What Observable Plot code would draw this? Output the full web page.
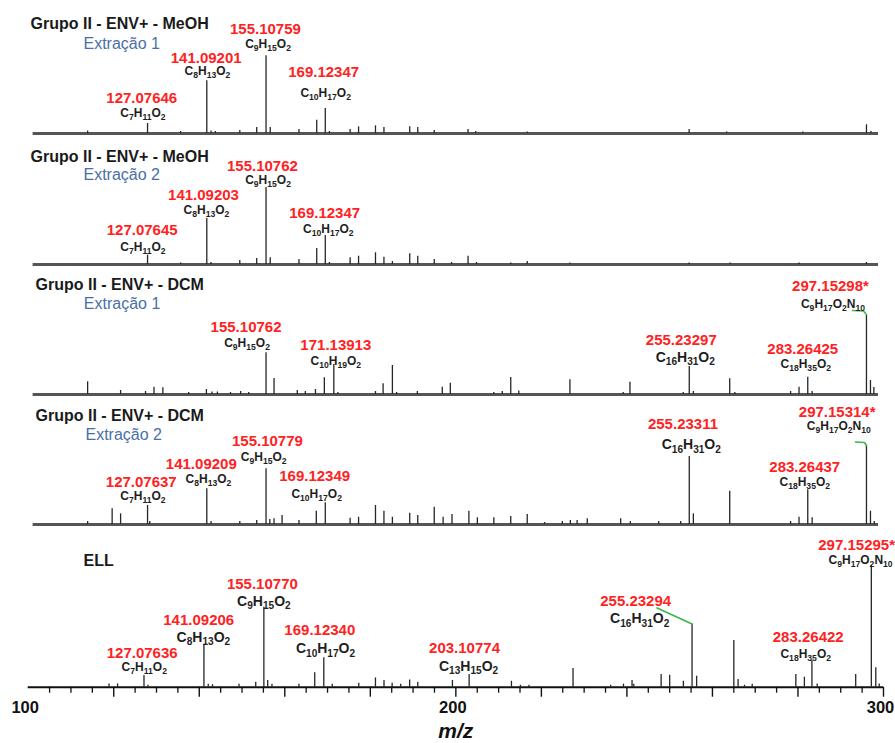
<!DOCTYPE html>
<html><head><meta charset="utf-8">
<script src="https://cdn.jsdelivr.net/npm/d3@7"></script>
<script src="https://cdn.jsdelivr.net/npm/@observablehq/plot@0.6"></script>
<style>
html,body{margin:0;padding:0;background:#fff;}
#chart{width:895px;}
#chart svg{display:block;}
</style></head>
<body><div id="chart"></div>
<script>
// ---------------- DATA ----------------
const panelTitles = ["Grupo II - ENV+ - MeOH", "Grupo II - ENV+ - MeOH", "Grupo II - ENV+ - DCM", "Grupo II - ENV+ - DCM", "ELL"];
const panelSubtitles = ["Extração 1", "Extração 2", "Extração 1", "Extração 2", ""];
const xTickLabels = [100, 200, 300];
const xAxisLabel = "m/z";

// Panel 1: ENV+ MeOH, extraction 1 (relative intensity, % of base peak)
const p1Mz  = [112.9, 127.076, 134.9, 141.092, 142.1, 143.1, 148.9, 152.9, 155.108, 156.1, 162.9, 167.1, 169.123, 170.1, 175.0, 177.0, 181.0, 183.0, 189.1, 191.0, 194.9, 202.9, 204.7, 216.9, 255.2, 264.1, 282.1, 297.153, 298.2];
const p1Int = [3.2, 12.9, 2.6, 67.8, 3.2, 2.6, 3.9, 7.7, 100, 7.7, 5.1, 17.1, 32.2, 2.6, 5.1, 8.6, 9.9, 7.7, 8.6, 7.7, 3.9, 5.1, 2.6, 1.9, 5.1, 1.9, 1.9, 11.2, 2.6];
const p1LabMz = [127.076, 141.092, 155.108, 169.123];
const p1LabMass = ["127.07646", "141.09201", "155.10759", "169.12347"];
const p1LabFormula = ["C7H11O2", "C8H13O2", "C9H15O2", "C10H17O2"];

// Panel 2: ENV+ MeOH, extraction 2
const p2Mz  = [127.076, 134.9, 141.092, 142.1, 148.9, 152.9, 155.108, 156.1, 162.9, 167.1, 169.123, 170.1, 175.0, 177.0, 181.0, 183.0, 185.0, 189.1, 191.0, 194.9, 199.0, 202.9, 204.9, 213.0, 216.9, 227.0, 255.2, 264.9, 281.2, 297.153];
const p2Int = [12.1, 2.0, 59.7, 2.6, 5.2, 7.8, 100, 8.7, 6.5, 20.8, 37.7, 2.6, 8.7, 10.8, 15.2, 9.5, 3.9, 13.9, 10.8, 6.5, 2.6, 10.8, 2.6, 1.9, 3.9, 1.9, 1.9, 1.9, 1.9, 2.6];
const p2LabMz = [127.076, 141.092, 155.108, 169.123];
const p2LabMass = ["127.07645", "141.09203", "155.10762", "169.12347"];
const p2LabFormula = ["C7H11O2", "C8H13O2", "C9H15O2", "C10H17O2"];

// Panel 3: ENV+ DCM, extraction 1
const p3Mz  = [112.9, 120.7, 126.6, 128.6, 130.7, 136.8, 141.0, 142.3, 143.6, 146.7, 149.1, 151.0, 155.108, 157.0, 162.5, 164.4, 166.8, 168.9, 171.139, 172.1, 181.0, 182.8, 185.0, 186.0, 190.9, 196.8, 198.7, 209.0, 211.0, 213.0, 214.9, 227.0, 239.6, 241.2, 253.8, 255.233, 256.2, 264.8, 266.0, 279.2, 281.2, 283.264, 284.3, 297.153, 298.1, 298.9];
const p3Int = [16.1, 5.1, 3.8, 9.2, 8.5, 2.5, 6.3, 3.2, 3.2, 2.5, 3.8, 2.5, 52.8, 20.3, 5.1, 3.8, 6.3, 21.1, 38.0, 2.5, 3.8, 13.5, 36.7, 2.5, 3.8, 9.2, 14.3, 2.5, 3.8, 21.5, 4.4, 18.6, 2.5, 15.6, 2.5, 35.4, 3.8, 19.9, 2.5, 3.8, 9.2, 21.9, 3.8, 100, 17.7, 8.9];
const p3LabMz = [155.108, 171.139, 255.233, 283.264, 297.153];
const p3LabMass = ["155.10762", "171.13913", "255.23297", "283.26425", "297.15298*"];
const p3LabFormula = ["C9H15O2", "C10H19O2", "C16H31O2", "C18H35O2", "C9H17O2N10"];

// Panel 4: ENV+ DCM, extraction 2
const p4Mz  = [112.9, 118.7, 120.7, 127.076, 127.6, 141.092, 142.1, 148.9, 152.9, 155.108, 156.0, 157.0, 158.9, 162.9, 167.0, 169.123, 175.0, 177.0, 181.0, 183.0, 185.0, 189.1, 191.0, 194.9, 197.0, 199.1, 203.1, 205.1, 209.0, 213.0, 216.9, 221.0, 225.2, 227.1, 228.7, 231.1, 239.0, 241.3, 248.0, 253.2, 255.233, 256.2, 264.8, 279.2, 281.2, 283.264, 284.3, 297.153, 298.1, 299.0];
const p4Int = [3.8, 19.9, 13.5, 24.1, 3.8, 45.2, 3.8, 3.8, 5.1, 70.5, 6.3, 7.2, 11.4, 5.1, 16.8, 27.5, 8.0, 9.2, 24.1, 16.8, 9.2, 14.3, 11.4, 21.9, 9.2, 12.7, 16.8, 8.5, 8.5, 10.1, 12.7, 2.5, 3.8, 5.1, 5.1, 7.2, 7.2, 3.8, 3.8, 3.8, 86.1, 13.5, 42.2, 3.8, 9.2, 43.9, 8.5, 100, 16.8, 3.8];
const p4LabMz = [127.076, 141.092, 155.108, 169.123, 255.233, 283.264, 297.153];
const p4LabMass = ["127.07637", "141.09209", "155.10779", "169.12349", "255.23311", "283.26437", "297.15314*"];
const p4LabFormula = ["C7H11O2", "C8H13O2", "C9H15O2", "C10H17O2", "C16H31O2", "C18H35O2", "C9H17O2N10"];

// Panel 5: ELL
const p5Mz  = [118.9, 120.9, 127.076, 128.0, 141.092, 142.1, 143.1, 149.3, 153.2, 155.108, 156.0, 157.0, 163.3, 167.0, 169.123, 171.1, 177.3, 181.2, 183.2, 185.1, 187.1, 189.2, 191.1, 199.2, 203.108, 213.0, 215.1, 217.1, 227.4, 236.2, 239.2, 241.2, 241.6, 248.0, 250.0, 253.2, 255.233, 256.3, 265.0, 266.0, 267.5, 269.3, 279.5, 281.5, 283.264, 284.5, 293.5, 297.153, 298.2, 299.0];
const p5Int = [2.7, 2.7, 9.6, 1.6, 35.1, 2.5, 2.1, 2.5, 4.1, 65.7, 5.5, 2.5, 2.5, 11.8, 24.1, 2.5, 3.3, 7.6, 5.5, 3.3, 2.5, 6.0, 4.1, 5.5, 10.4, 4.9, 1.6, 1.6, 15.4, 1.6, 2.5, 5.5, 2.5, 10.4, 9.9, 4.9, 52.0, 9.0, 38.4, 6.3, 1.6, 2.5, 10.4, 8.2, 21.9, 2.7, 10.4, 100, 15.9, 2.7];
const p5LabMz = [127.076, 141.092, 155.108, 169.123, 203.108, 255.233, 283.264, 297.153];
const p5LabMass = ["127.07636", "141.09206", "155.10770", "169.12340", "203.10774", "255.23294", "283.26422", "297.15295*"];
const p5LabFormula = ["C7H11O2", "C8H13O2", "C9H15O2", "C10H17O2", "C13H15O2", "C16H31O2", "C18H35O2", "C9H17O2N10"];

// ---------------- LAYOUT / STYLE ----------------
const W = 895;
const FONT = "'Liberation Sans', Arial, Helvetica, sans-serif";
const RED = "#ff2222", GREEN = "#3cb54a", BLUE = "#4a6fa8";

// label offsets (px) relative to the labelled peak top: formula dx/dy, mass dx/dy, big formula font
const layouts = [
  {h:134, mb:1, ml:32.6, mr:17, top:55.3, titleDx:-2.6, titleDy:23, subDx:50.4, subDy:43,
   lab:[{fdx:-4.6,fdy:-10,rdx:-5.8,rdy:-25},{fdx:0.7,fdy:-9.3,rdx:-0.6,rdy:-23},{fdx:2,fdy:-12,rdx:-0.6,rdy:-27},{fdx:0.4,fdy:-15,rdx:-1.6,rdy:-36}], links:[]},
  {h:131, mb:1, ml:32.6, mr:17, top:53, titleDx:-2.6, titleDy:22.7, subDx:50.4, subDy:40,
   lab:[{fdx:-4.6,fdy:-8,rdx:-5.4,rdy:-25},{fdx:-0.3,fdy:-8.4,rdx:-3.3,rdy:-23.2},{fdx:2,fdy:-7.4,rdx:-3.6,rdy:-21.7},{fdx:3,fdy:-6,rdx:-0.6,rdy:-22.6}], links:[]},
  {h:130, mb:1, ml:32.6, mr:17, top:50, titleDx:2.4, titleDy:19, subDx:50.7, subDy:38,
   lab:[{fdx:-19,fdy:-10,rdx:-20,rdy:-26},{fdx:2,fdy:-3.3,rdx:2,rdy:-19.3},{fdx:-4,fdy:-9.3,rdx:-8,rdy:-26,big:true},{fdx:-2,fdy:-13.4,rdx:-5,rdy:-28.4},{fdx:-33.5,fdy:-11.7,rdx:-36,rdy:-29}],
   links:[{mz:297.153, pts:[[-14,-5],[-3,-4.5],[0,-1]]}]},
  {h:130, mb:1, ml:32.6, mr:17, top:50, titleDx:2.4, titleDy:20, subDx:52.4, subDy:39,
   lab:[{fdx:-4.6,fdy:-9,rdx:-6.3,rdy:-23.3},{fdx:1.7,fdy:-10,rdx:-5.5,rdy:-24.3},{fdx:-2.3,fdy:-11.6,rdx:1.4,rdy:-27.6},{fdx:-8.6,fdy:-9,rdx:-10.6,rdy:-26.3},{fdx:2,fdy:-12,rdx:-6.3,rdy:-32.7,big:true},{fdx:-3,fdy:-7.6,rdx:-3,rdy:-22.6},{fdx:-27.7,fdy:-19,rdx:-29.3,rdy:-33.5}],
   links:[{mz:297.153, pts:[[-11,-3.5],[-2,-3],[0,0]]}]},
  {h:218, mb:56.3, ml:27.7, mr:12, top:40, titleDx:55.3, titleDy:35.7, subDx:0, subDy:0,
   lab:[{fdx:0.3,fdy:-8.3,rdx:-1.8,rdy:-22.3},{fdx:-0.6,fdy:-7.3,rdx:-5.2,rdy:-24,big:true},{fdx:0,fdy:-6,rdx:-1.5,rdy:-23.4,big:true},{fdx:1.7,fdy:-9,rdx:-4,rdy:-27.3,big:true},{fdx:-0.6,fdy:-8.3,rdx:-4.6,rdy:-26.6,big:true},{fdx:-52.4,fdy:-5.4,rdx:-56.4,rdy:-22.7,big:true},{fdx:-6.2,fdy:-6.6,rdx:-3.7,rdy:-23.3},{fdx:-10.7,fdy:-5.4,rdx:-14.7,rdy:-20.5}],
   links:[{mz:255.233, pts:[[-35,-16],[0,0]]}], axis:true}
];

const panels = [
  {mz:p1Mz, inten:p1Int, labMz:p1LabMz, labMass:p1LabMass, labFormula:p1LabFormula},
  {mz:p2Mz, inten:p2Int, labMz:p2LabMz, labMass:p2LabMass, labFormula:p2LabFormula},
  {mz:p3Mz, inten:p3Int, labMz:p3LabMz, labMass:p3LabMass, labFormula:p3LabFormula},
  {mz:p4Mz, inten:p4Int, labMz:p4LabMz, labMass:p4LabMass, labFormula:p4LabFormula},
  {mz:p5Mz, inten:p5Int, labMz:p5LabMz, labMass:p5LabMass, labFormula:p5LabFormula}
];

const minorTicks = d3.range(105, 300, 5).filter(v => v % 20 !== 0);
const majorTicks = d3.range(120, 301, 20);

const FORMULA_RE = /^(?:[A-Z][a-z]?\d+)+$/;
function subscriptify(svg) {
  d3.select(svg).selectAll("text").each(function() {
    const s = this.textContent;
    if (!FORMULA_RE.test(s)) return;
    const fs = parseFloat(getComputedStyle(this).fontSize) || 11;
    const shift = +(fs * 0.26).toFixed(2);
    this.textContent = "";
    const sel = d3.select(this);
    let lowered = false;
    for (const tok of s.match(/[A-Z][a-z]?|\d+/g)) {
      const isDigit = /\d/.test(tok);
      const t = sel.append("tspan").text(tok);
      if (isDigit) {
        t.attr("font-size", (fs * 0.72).toFixed(1));
        if (!lowered) { t.attr("dy", shift); lowered = true; }
      } else if (lowered) {
        t.attr("dy", -shift); lowered = false;
      }
    }
  });
}

const chart = document.getElementById("chart");

panels.forEach((p, k) => {
  const L = layouts[k];
  const data = p.mz.map((m, i) => ({mz: m, i: p.inten[i]}));
  const baseline = L.h - L.mb;
  const xs = d3.scaleLinear([100, 300], [L.ml, W - L.mr]);
  const ys = d3.scaleLinear([0, 100], [baseline, L.top]);
  const nearest = m => data.reduce((a, b) => Math.abs(b.mz - m) < Math.abs(a.mz - m) ? b : a);

  const marks = [];
  marks.push(Plot.ruleY([0], L.axis ? {stroke: "#111", strokeWidth: 2} : {stroke: "#555", strokeWidth: 2.8}));
  marks.push(Plot.ruleX(data, {x: "mz", y1: 0, y2: "i", stroke: "#262626", strokeWidth: 1.3}));
  L.links.forEach(ln => {
    const pk = nearest(ln.mz);
    const pts = ln.pts.map(([dx, dy]) => ({x: xs.invert(xs(pk.mz) + dx), y: ys.invert(ys(pk.i) + dy)}));
    marks.push(Plot.line(pts, {x: "x", y: "y", stroke: GREEN, strokeWidth: 1.6}));
  });
  p.labMz.forEach((m, j) => {
    const pk = nearest(m);
    const o = L.lab[j];
    const d = [{mz: pk.mz, i: pk.i, mass: p.labMass[j], formula: p.labFormula[j]}];
    marks.push(Plot.text(d, {x: "mz", y: "i", text: "mass", dx: o.rdx, dy: o.rdy, lineAnchor: "middle",
      fill: RED, fontSize: 15, fontWeight: "bold"}));
    marks.push(Plot.text(d, {x: "mz", y: "i", text: "formula", dx: o.fdx, dy: o.fdy, lineAnchor: "middle",
      fill: "#1e1e1e", fontSize: o.big ? 14 : 12, fontWeight: "bold"}));
  });
  marks.push(Plot.text([panelTitles[k]], {text: d => d, frameAnchor: "top-left", textAnchor: "start", lineAnchor: "middle",
    dx: L.titleDx, dy: L.titleDy, fontSize: 16, fontWeight: "bold", fill: "#1a1a1a"}));
  if (panelSubtitles[k]) {
    marks.push(Plot.text([panelSubtitles[k]], {text: d => d, frameAnchor: "top-left", textAnchor: "start", lineAnchor: "middle",
      dx: L.subDx, dy: L.subDy, fontSize: 16, fill: BLUE}));
  }
  if (L.axis) {
    marks.push(Plot.axisX(minorTicks, {tickSize: 6, fill: "none", stroke: "#111", strokeWidth: 1.3, label: null}));
    marks.push(Plot.axisX(majorTicks, {tickSize: 10, fill: "none", stroke: "#111", strokeWidth: 1.4, label: null}));
    marks.push(Plot.axisX(xTickLabels, {tickSize: 0, tickPadding: 14, dx: -3, tickFormat: d => String(d), fontSize: 16.5, fontWeight: "bold", fill: "#111", label: null}));
    marks.push(Plot.text([xAxisLabel], {text: d => d, frameAnchor: "bottom", lineAnchor: "middle", dy: 44,
      fontSize: 21, fontWeight: "bold", fontStyle: "italic", fill: "#111"}));
  }

  const svg = Plot.plot({
    width: W, height: L.h,
    marginTop: 0, marginBottom: L.mb, marginLeft: L.ml, marginRight: L.mr,
    x: {domain: [100, 300], axis: null},
    y: {domain: [0, 100], range: [baseline, L.top], axis: null},
    style: {fontFamily: FONT, background: "#fff", overflow: "visible"},
    marks
  });
  chart.appendChild(svg);
  subscriptify(svg);
});
</script>
</body></html>
